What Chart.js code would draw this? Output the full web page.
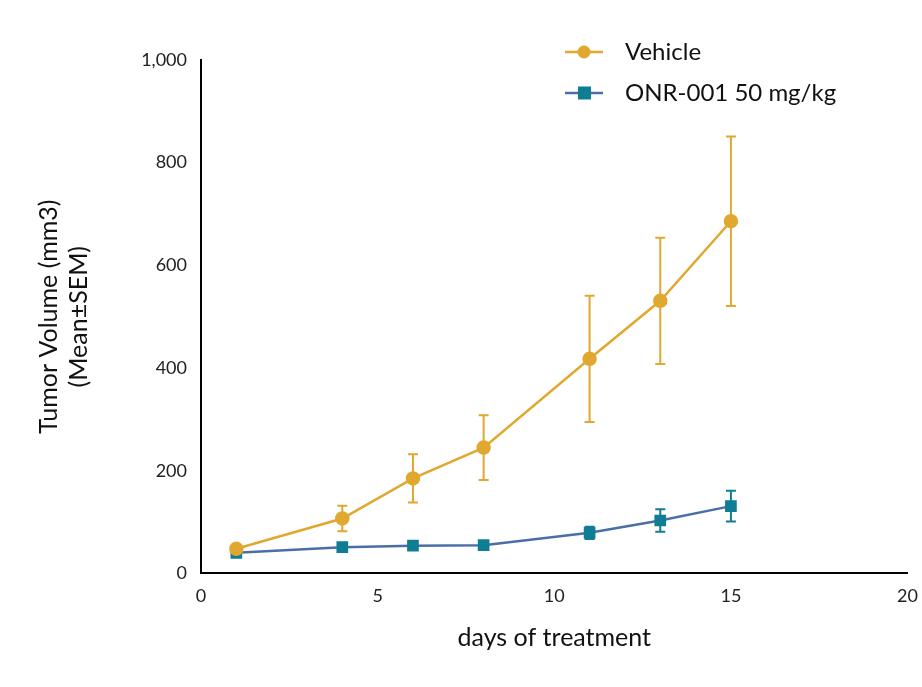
<!DOCTYPE html>
<html>
<head>
<script src="https://cdn.jsdelivr.net/npm/chart.js@4"></script>
<style>
  body { margin: 0; background: #fff; }
  #wrap { width: 922px; height: 687px; }
</style>
</head>
<body>
<div id="wrap"><canvas id="myChart"></canvas></div>
<script>
// Data
let days = [1, 4, 6, 8, 11, 13, 15];
let vehicleMean = [48, 107, 185, 245, 418, 531, 686];
let vehicleSem = [0, 25, 47, 63, 123, 123, 165];
let onrMean = [40, 51, 54, 55, 79, 103, 131];
let onrSem = [0, 0, 0, 0, 12, 22, 30];
let xTicks = [0, 5, 10, 15, 20];

let vehicleColor = '#e0a82e';
let onrLine = '#4a6fa8';
let onrMarker = '#0f7d93';
let font = 'Lato, "Open Sans", sans-serif';

function toPoints(means) {
    return days.map((d, i) => ({ x: d, y: means[i] }));
}

// Error bars drawn through the chart's scales
const errorBars = {
    id: 'errorBars',
    beforeDatasetsDraw(chart) {
        const ctx = chart.ctx;
        const xs = chart.scales.x, ys = chart.scales.y;
        chart.data.datasets.forEach(ds => {
            ctx.save();
            ctx.strokeStyle = ds.errColor;
            ctx.lineWidth = 2;
            ds.data.forEach((p, i) => {
                const e = ds.sem[i];
                if (!e) return;
                const x = xs.getPixelForValue(p.x);
                const y1 = ys.getPixelForValue(p.y + e);
                const y2 = ys.getPixelForValue(p.y - e);
                ctx.beginPath();
                ctx.moveTo(x, y1); ctx.lineTo(x, y2);
                ctx.moveTo(x - 5, y1); ctx.lineTo(x + 5, y1);
                ctx.moveTo(x - 5, y2); ctx.lineTo(x + 5, y2);
                ctx.stroke();
            });
            ctx.restore();
        });
    }
};

// Legend with line through marker
const lineLegend = {
    id: 'lineLegend',
    afterDraw(chart) {
        const ctx = chart.ctx;
        const x0 = 565, rows = [52, 93];
        chart.data.datasets.forEach((ds, i) => {
            const y = rows[i];
            ctx.save();
            ctx.strokeStyle = ds.borderColor;
            ctx.lineWidth = 2.5;
            ctx.beginPath(); ctx.moveTo(x0, y); ctx.lineTo(x0 + 38, y); ctx.stroke();
            ctx.fillStyle = ds.pointBackgroundColor;
            if (ds.pointStyle === 'rect') {
                ctx.fillRect(x0 + 13, y - 6.5, 13, 13);
            } else {
                ctx.beginPath(); ctx.arc(x0 + 19, y, 6.5, 0, Math.PI * 2); ctx.fill();
            }
            ctx.fillStyle = '#111';
            ctx.font = '24px ' + font;
            ctx.textBaseline = 'middle';
            ctx.fillText(ds.label, x0 + 60, y);
            ctx.restore();
        });
    }
};

let ctx = document.getElementById('myChart').getContext('2d');
let myChart = new Chart(ctx, {
    type: 'line',
    data: {
        datasets: [{
            label: 'Vehicle',
            data: toPoints(vehicleMean),
            sem: vehicleSem,
            errColor: vehicleColor,
            borderColor: vehicleColor,
            pointBackgroundColor: vehicleColor,
            pointBorderColor: vehicleColor,
            pointStyle: 'circle',
            pointRadius: 6,
            borderWidth: 2.5,
            tension: 0
        }, {
            label: 'ONR-001 50 mg/kg',
            data: toPoints(onrMean),
            sem: onrSem,
            errColor: onrMarker,
            borderColor: onrLine,
            pointBackgroundColor: onrMarker,
            pointBorderColor: onrMarker,
            pointStyle: 'rect',
            pointRadius: 6.5,
            borderWidth: 2.5,
            tension: 0
        }]
    },
    options: {
        responsive: true,
        maintainAspectRatio: false,
        animation: false,
        layout: { padding: { top: 60, right: 10, bottom: 30, left: 30 } },
        plugins: { legend: { display: false }, tooltip: { enabled: false } },
        scales: {
            x: {
                type: 'linear',
                min: 0, max: 20,
                afterBuildTicks: s => { s.ticks = xTicks.map(v => ({ value: v })); },
                grid: { display: false, drawTicks: true, tickLength: 8, tickColor: '#000' },
                border: { color: '#000', width: 2 },
                ticks: { color: '#222', font: { family: font, size: 18 }, padding: 4 },
                title: { display: true, text: 'days of treatment', color: '#111', font: { family: font, size: 25 }, padding: { top: 12 } }
            },
            y: {
                min: 0, max: 1000,
                grid: { display: false, drawTicks: true, tickLength: 8, tickColor: '#000' },
                border: { color: '#000', width: 2 },
                ticks: { stepSize: 200, color: '#222', font: { family: font, size: 18 }, padding: 6 },
                title: { display: true, text: ['Tumor Volume (mm3)', '(Mean±SEM)'], color: '#111', font: { family: font, size: 25 }, padding: { bottom: 20 } },
                afterFit: s => { s.width = 171; }
            }
        }
    },
    plugins: [errorBars, lineLegend]
});
</script>
</body>
</html>
